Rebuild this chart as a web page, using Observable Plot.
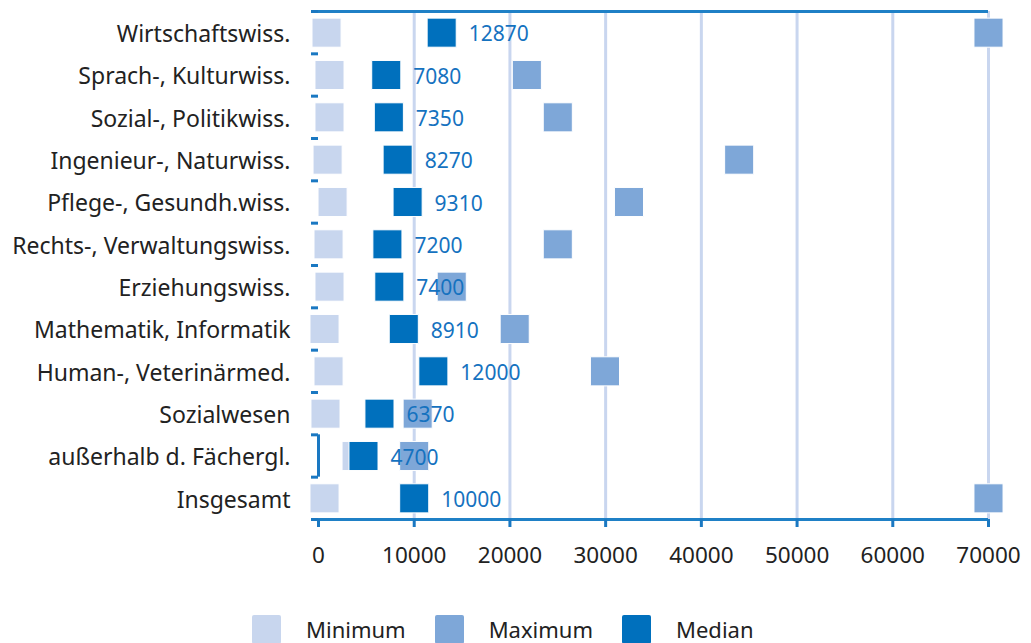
<!DOCTYPE html>
<html>
<head>
<meta charset="utf-8">
<script src="https://cdn.jsdelivr.net/npm/d3@7"></script>
<script src="https://cdn.jsdelivr.net/npm/@observablehq/plot@0.6"></script>
<style>
  html, body { margin: 0; padding: 0; background: #fff; }
  body { width: 1031px; height: 643px; overflow: hidden; font-family: "Noto Sans", sans-serif; }
  #legend { display: flex; align-items: center; position: absolute; top: 614px; left: 252px; font-size: 22px; color: #222; }
  #legend .sw { width: 29px; height: 29px; border-radius: 2px; }
  #legend .lb { margin-left: 25px; margin-right: 29px; }
</style>
</head>
<body>
<div id="chart"></div>
<div id="legend"></div>
<script>
const categories = [
  "Wirtschaftswiss.",
  "Sprach-, Kulturwiss.",
  "Sozial-, Politikwiss.",
  "Ingenieur-, Naturwiss.",
  "Pflege-, Gesundh.wiss.",
  "Rechts-, Verwaltungswiss.",
  "Erziehungswiss.",
  "Mathematik, Informatik",
  "Human-, Veterinärmed.",
  "Sozialwesen",
  "außerhalb d. Fächergl.",
  "Insgesamt"
];
const minimum = [840, 1150, 1150, 950, 1470, 1050, 1150, 630, 1050, 730, 3980, 630];
const maximum = [70000, 21770, 25000, 43950, 32440, 25000, 13920, 20500, 29930, 10360, 10000, 70000];
const median  = [12870, 7080, 7350, 8270, 9310, 7200, 7400, 8910, 12000, 6370, 4700, 10000];
const xTicks = [0, 10000, 20000, 30000, 40000, 50000, 60000, 70000];
const seriesNames = ["Minimum", "Maximum", "Median"];
const seriesColors = ["#c8d6ee", "#7ea7d8", "#0070bd"];

const rows = categories.map((c, i) => ({i, c, min: minimum[i], max: maximum[i], med: median[i]}));
const rowIdx = categories.map((_, i) => i);
const bounds = [...rowIdx.map(i => i - 0.5), categories.length - 0.5];
const sq = 16.4; // r so that square side ≈ 29px

const plot = Plot.plot({
  width: 1031,
  height: 575,
  marginLeft: 318,
  marginRight: 43,
  marginTop: 11,
  marginBottom: 56,
  style: {fontFamily: "Noto Sans, sans-serif", background: "white", overflow: "visible"},
  x: {domain: [0, 70000]},
  y: {domain: [categories.length - 0.5, -0.5]},
  marks: [
    Plot.ruleX(xTicks.slice(1), {stroke: "#c9d6ef", strokeWidth: 3}),
    Plot.ruleX([0], {y1: 9.5, y2: 10.5, stroke: "#1a78c2", strokeWidth: 3}),
    Plot.ruleY([-0.5, categories.length - 0.5], {stroke: "#1f80c6", strokeWidth: 3}),
    Plot.axisX({ticks: xTicks, tickSize: 8, tickPadding: 20, stroke: "#1a78c2", strokeWidth: 3, fill: "#222", fontSize: 22.5, tickFormat: d => String(d), label: null}),
    Plot.axisY({ticks: rowIdx, tickSize: 0, tickPadding: 28, tickFormat: i => categories[i], fill: "#222", fontSize: 23, dy: 2, label: null}),
    Plot.axisY({ticks: bounds, tickSize: 7, tickFormat: () => "", stroke: "#1a78c2", strokeWidth: 3, label: null}),
    Plot.dot(rows, {x: "min", y: "i", symbol: "square", r: sq, fill: seriesColors[0], stroke: "white", strokeWidth: 1}),
    Plot.dot(rows, {x: "max", y: "i", symbol: "square", r: sq, fill: seriesColors[1], stroke: "white", strokeWidth: 1}),
    Plot.dot(rows, {x: "med", y: "i", symbol: "square", r: sq, fill: seriesColors[2], stroke: "white", strokeWidth: 1}),
    Plot.text(rows, {x: "med", y: "i", text: d => String(d.med), dx: 27, dy: 2, textAnchor: "start", fill: "#1572bf", fontSize: 21})
  ]
});
document.getElementById("chart").appendChild(plot);

const legend = document.getElementById("legend");
seriesNames.forEach((n, k) => {
  const s = document.createElement("div");
  s.className = "sw";
  s.style.background = seriesColors[k];
  const t = document.createElement("div");
  t.className = "lb";
  t.textContent = n;
  legend.appendChild(s);
  legend.appendChild(t);
});
</script>
</body>
</html>
